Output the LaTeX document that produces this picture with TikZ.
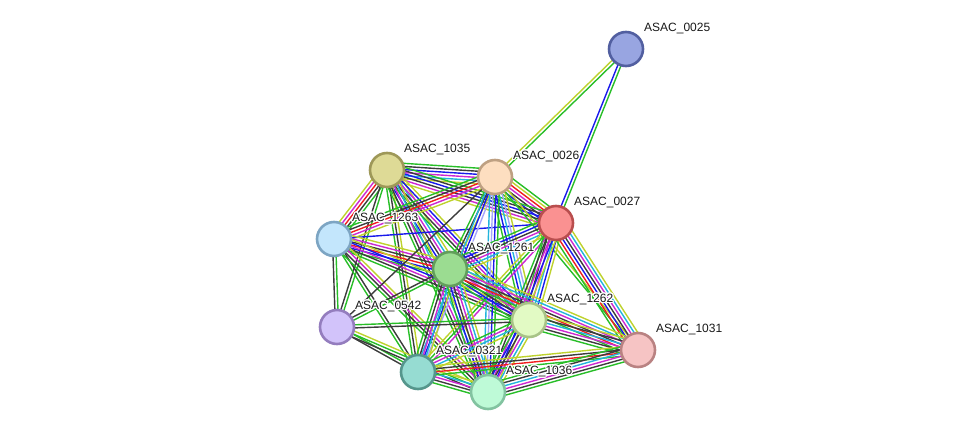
\documentclass[tikz,border=0pt]{standalone}
\usepackage{fontspec}
\setmainfont{Liberation Sans}
\usepackage{contour}
\contourlength{1.2pt}
\usetikzlibrary{positioning, calc, backgrounds}

% STRING evidence colours
\definecolor{nbh}{RGB}{40,190,40}
\definecolor{fus}{RGB}{240,30,30}
\definecolor{coc}{RGB}{25,25,235}
\definecolor{cex}{RGB}{60,60,60}
\definecolor{exper}{RGB}{205,40,210}
\definecolor{dbase}{RGB}{35,180,220}
\definecolor{txtm}{RGB}{190,210,45}
\definecolor{homol}{RGB}{165,165,250}

% one bundle of parallel evidence lines between two proteins
\newcommand{\linkset}[3]{%
  \foreach \c [count=\k] in {#3}{\xdef\nlinks{\k}}%
  \foreach \c [count=\k] in {#3}{%
    \pgfmathsetmacro{\off}{(\k-(\nlinks+1)/2)*3.1}%
    \draw[link, draw=\c] ($(#1)!\off pt!90:(#2)$) -- ($(#2)!\off pt!-90:(#1)$);
  }%
}

\begin{document}
\begin{tikzpicture}[
    x=1pt, y=-1pt,
    font=\fontsize{12}{14}\selectfont,
    prot/.style={
        circle,
        minimum size=34pt,
        inner sep=0pt,
        line width=2.6pt
    },
    protlabel/.style={
        anchor=west,
        inner sep=0pt,
        text=black!90
    },
    link/.style={
        line width=1.4pt
    }
]
\useasboundingbox (0,0) rectangle (976,439);

% --- Proteins ----------------------------------------------------------------
\node[prot, fill={rgb,255:red,152;green,165;blue,225}, draw={rgb,255:red,82;green,95;blue,160}]   (a0025) at (626,49)  {};
\node[prot, fill={rgb,255:red,222;green,218;blue,150}, draw={rgb,255:red,158;green,152;blue,88}]  (a1035) at (387,170) {};
\node[prot, fill={rgb,255:red,253;green,222;blue,192}, draw={rgb,255:red,190;green,160;blue,130}] (a0026) at (495,177) {};
\node[prot, fill={rgb,255:red,250;green,145;blue,145}, draw={rgb,255:red,185;green,78;blue,78}]   (a0027) at (556,223) {};
\node[prot, fill={rgb,255:red,195;green,230;blue,252}, draw={rgb,255:red,125;green,165;blue,195}] (a1263) at (334,239) {};
\node[prot, fill={rgb,255:red,155;green,220;blue,145}, draw={rgb,255:red,98;green,158;blue,92}]   (a1261) at (450,269) {};
\node[prot, fill={rgb,255:red,210;green,195;blue,250}, draw={rgb,255:red,148;green,125;blue,190}] (a0542) at (337,327) {};
\node[prot, fill={rgb,255:red,226;green,250;blue,196}, draw={rgb,255:red,168;green,195;blue,135}] (a1262) at (529,320) {};
\node[prot, fill={rgb,255:red,246;green,196;blue,196}, draw={rgb,255:red,185;green,130;blue,130}] (a1031) at (638,350) {};
\node[prot, fill={rgb,255:red,150;green,220;blue,210}, draw={rgb,255:red,85;green,150;blue,140}]  (a0321) at (418,372) {};
\node[prot, fill={rgb,255:red,190;green,250;blue,215}, draw={rgb,255:red,130;green,195;blue,160}] (a1036) at (488,392) {};

% --- Labels ------------------------------------------------------------------
\node[protlabel] (l0025) at ($(a0025)+(18,-20)$) {\contour{white}{ASAC\_0025}};
\node[protlabel] (l1035) at ($(a1035)+(17,-20)$) {\contour{white}{ASAC\_1035}};
\node[protlabel] (l0026) at ($(a0026)+(18,-20)$) {\contour{white}{ASAC\_0026}};
\node[protlabel] (l0027) at ($(a0027)+(18,-20)$) {\contour{white}{ASAC\_0027}};
\node[protlabel] (l1263) at ($(a1263)+(18,-20)$) {\contour{white}{ASAC\_1263}};
\node[protlabel] (l1261) at ($(a1261)+(18,-20)$) {\contour{white}{ASAC\_1261}};
\node[protlabel] (l0542) at ($(a0542)+(18,-20)$) {\contour{white}{ASAC\_0542}};
\node[protlabel] (l1262) at ($(a1262)+(18,-20)$) {\contour{white}{ASAC\_1262}};
\node[protlabel] (l1031) at ($(a1031)+(18,-20)$) {\contour{white}{ASAC\_1031}};
\node[protlabel] (l0321) at ($(a0321)+(18,-20)$) {\contour{white}{ASAC\_0321}};
\node[protlabel] (l1036) at ($(a1036)+(18,-20)$) {\contour{white}{ASAC\_1036}};

% --- Evidence lines ----------------------------------------------------------
\begin{pgfonlayer}{background}
\linkset{a0025}{a0026}{txtm,nbh}
\linkset{a0025}{a0027}{coc,nbh}
\linkset{a0026}{a0027}{nbh,coc,cex,exper,fus,txtm,nbh}
\linkset{a1035}{a0026}{txtm,dbase,exper,coc,cex,nbh}
\linkset{a1035}{a0027}{txtm,exper,cex,coc,cex,nbh}
\linkset{a1035}{a1263}{txtm,exper,fus,cex,nbh}
\linkset{a1035}{a1261}{nbh,coc,cex,exper,dbase,txtm}
\linkset{a1035}{a0542}{cex,nbh}
\linkset{a1035}{a1262}{nbh,cex,exper,coc,txtm}
\linkset{a1035}{a0321}{nbh,cex,txtm}
\linkset{a1035}{a1036}{nbh,cex,exper,dbase,txtm}
\linkset{a1263}{a0026}{txtm,exper,fus,cex,nbh}
\linkset{a1263}{a0027}{coc}
\linkset{a1263}{a1261}{nbh,coc,fus,cex,exper,txtm}
\linkset{a1263}{a0542}{cex,nbh}
\linkset{a1263}{a1262}{nbh,cex,exper,coc,txtm}
\linkset{a1263}{a0321}{nbh,cex}
\linkset{a1263}{a1036}{nbh,cex,exper,txtm}
\linkset{a0026}{a1261}{nbh,cex,txtm}
\linkset{a0026}{a0542}{cex}
\linkset{a0026}{a1262}{nbh,coc,dbase,homol,txtm}
\linkset{a0026}{a0321}{dbase,coc,homol}
\linkset{a0026}{a1036}{dbase,homol,coc,nbh}
\linkset{a0026}{a1031}{nbh,txtm}
\linkset{a0027}{a1261}{nbh,coc,cex,exper,dbase,txtm}
\linkset{a0027}{a1262}{nbh,cex,exper,dbase,coc,txtm}
\linkset{a0027}{a1031}{nbh,fus,coc,cex,exper,dbase,txtm}
\linkset{a0027}{a0321}{txtm,nbh,exper}
\linkset{a0027}{a1036}{nbh,cex,exper,coc,txtm}
\linkset{a1261}{a0542}{cex,nbh}
\linkset{a1261}{a1262}{nbh,coc,cex,exper,dbase,txtm}
\linkset{a1261}{a0321}{nbh,cex,exper,dbase,txtm}
\linkset{a1261}{a1036}{nbh,coc,cex,exper,dbase,txtm}
\linkset{a1261}{a1031}{nbh,fus,cex,exper,dbase,txtm}
\linkset{a0542}{a1262}{cex,nbh}
\linkset{a0542}{a0321}{cex,nbh}
\linkset{a0542}{a1036}{cex,nbh,txtm}
\linkset{a1262}{a1031}{nbh,cex,exper,dbase,cex,txtm}
\linkset{a1262}{a0321}{nbh,exper,dbase,txtm}
\linkset{a1262}{a1036}{nbh,coc,cex,exper,dbase,txtm}
\linkset{a0321}{a1036}{nbh,cex,exper,dbase,txtm}
\linkset{a0321}{a1031}{nbh,fus,cex,txtm}
\linkset{a1036}{a1031}{nbh,cex,exper,dbase,cex,nbh}
\end{pgfonlayer}

\end{tikzpicture}
\end{document}
